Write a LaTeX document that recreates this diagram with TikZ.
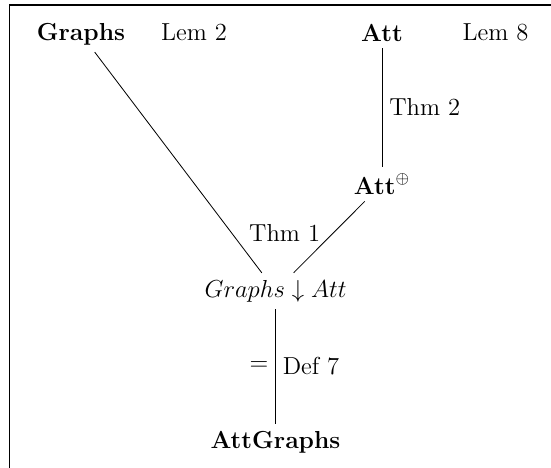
\documentclass[tikz,border=0pt]{standalone}
\usepackage{amsmath,amssymb}
\usetikzlibrary{positioning}

\begin{document}
\begin{tikzpicture}[
    font=\large,
    obj/.style={
        inner sep=3.33pt
    },
    note/.style={
        inner sep=3.33pt
    },
    link/.style={
        line width=0.4pt
    },
    frameline/.style={
        line width=0.8pt
    }
]

% Page size
\useasboundingbox (0,0) rectangle (9.447,-8.024);

% Frame (top and left only)
\draw[frameline] (0.163,-8.024) -- (0.163,-0.086) -- (9.447,-0.086);

% Top row
\node[obj] at (1.389,-0.583) (graphs) {$\mathbf{Graphs}$};
\node[note] at (3.326,-0.559) (lemtwo) {Lem 2};
\node[obj] at (6.550,-0.559) (att) {$\mathbf{Att}$};
\node[note] at (8.496,-0.559) (lemeight) {Lem 8};

% Middle
\node[obj] at (6.550,-3.155) (attplus) {$\mathbf{Att}^{\oplus}$};
\node[obj] at (4.724,-4.989) (comma) {$Graphs \downarrow Att$};

% Bottom
\node[obj] at (4.724,-7.579) (attgraphs) {$\mathbf{AttGraphs}$};

% === CONNECTIONS ===
\draw[link] (att) -- node[right] {Thm 2} (attplus);
\draw[link] (graphs) -- node[pos=0.82, right, xshift=5pt] {Thm 1} (comma);
\draw[link] (attplus) -- (comma);
\draw[link] (comma) -- node[left] {$=$} node[right] {Def 7} (attgraphs);

\end{tikzpicture}
\end{document}
